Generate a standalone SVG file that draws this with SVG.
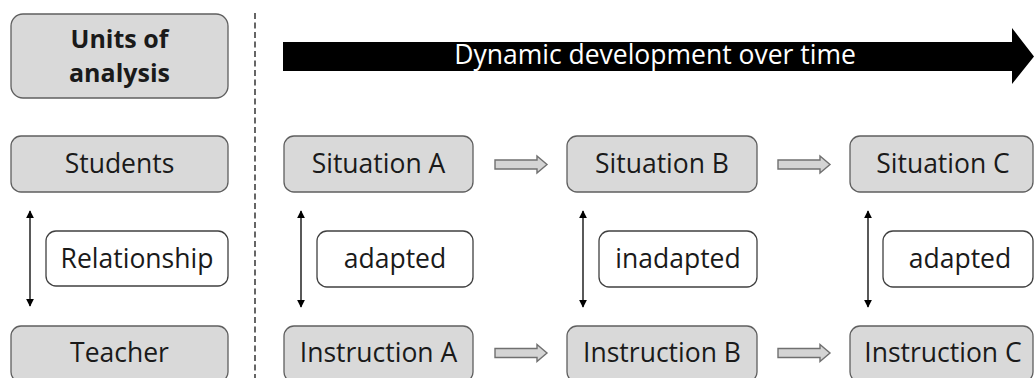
<svg xmlns="http://www.w3.org/2000/svg" width="1034" height="378" viewBox="0 0 1034 378">
<style>
.g{fill:#d9d9d9;stroke:#5f5f5f;stroke-width:1.3}
.w{fill:#ffffff;stroke:#404040;stroke-width:1.3}
.t{font-family:"Open Sans","Liberation Sans",sans-serif;font-size:26.5px;fill:#1a1a1a;text-anchor:middle}
.b{font-weight:bold;font-size:25px}
.dbl{stroke:#000;stroke-width:1.3;fill:none;marker-start:url(#ah);marker-end:url(#ah)}
.blk{fill:#d4d4d4;stroke:#707070;stroke-width:1.4}
</style>
<defs>
<marker id="ah" viewBox="0 0 10 10" refX="9" refY="5" markerWidth="8" markerHeight="8" markerUnits="userSpaceOnUse" orient="auto-start-reverse">
<path d="M0,0 L10,5 L0,10 z" fill="#000"/>
</marker>
<path id="barrow" d="M0,-4.5 L42,-4.5 L42,-8.5 L52,0 L42,8.5 L42,4.5 L0,4.5 z"/>
</defs>
<rect width="1034" height="378" fill="#fff"/>
<line x1="255" y1="13" x2="255" y2="378" stroke="#000" stroke-width="1.2" stroke-dasharray="6,3.5"/>
<g id="timeline">
<polygon points="283,42 1012,42 1012,28 1034,56.5 1012,84 1012,71 283,71" fill="#000"/>
<text class="t" x="655" y="64" style="fill:#fff">Dynamic development over time</text>
</g>
<g id="units">
<rect class="g" x="11" y="14" width="217" height="84" rx="12"/>
<text class="t b" x="119.5" y="48">Units of</text>
<text class="t b" x="119.5" y="82">analysis</text>
</g>
<g id="students"><rect class="g" x="11" y="136" width="217" height="56" rx="10"/><text class="t" x="119.5" y="173">Students</text></g>
<g id="relationship"><rect class="w" x="46" y="231" width="182" height="55" rx="10"/><text class="t" x="137" y="268">Relationship</text></g>
<g id="teacher"><rect class="g" x="11" y="326" width="217" height="56" rx="10"/><text class="t" x="119.5" y="362">Teacher</text></g>
<g id="situationA"><rect class="g" x="284" y="136" width="189" height="56" rx="10"/><text class="t" x="378.5" y="173">Situation A</text></g>
<g id="adaptedA"><rect class="w" x="317" y="231" width="156" height="56" rx="10"/><text class="t" x="395" y="268">adapted</text></g>
<g id="instructionA"><rect class="g" x="284" y="326" width="189" height="56" rx="10"/><text class="t" x="378.5" y="362">Instruction A</text></g>
<g id="situationB"><rect class="g" x="567" y="136" width="190" height="56" rx="10"/><text class="t" x="662" y="173">Situation B</text></g>
<g id="inadaptedB"><rect class="w" x="599" y="231" width="158" height="56" rx="10"/><text class="t" x="678" y="268">inadapted</text></g>
<g id="instructionB"><rect class="g" x="567" y="326" width="190" height="56" rx="10"/><text class="t" x="662" y="362">Instruction B</text></g>
<g id="situationC"><rect class="g" x="850" y="136" width="183" height="56" rx="10"/><text class="t" x="943" y="173">Situation C</text></g>
<g id="adaptedC"><rect class="w" x="883" y="231" width="150" height="56" rx="10"/><text class="t" x="960" y="268">adapted</text></g>
<g id="instructionC"><rect class="g" x="850" y="326" width="183" height="56" rx="10"/><text class="t" x="943" y="362">Instruction C</text></g>
<g id="connectors">
<line class="dbl" x1="30" y1="211" x2="30" y2="306"/>
<line class="dbl" x1="301" y1="211" x2="301" y2="307"/>
<line class="dbl" x1="583" y1="211" x2="583" y2="307"/>
<line class="dbl" x1="868" y1="211" x2="868" y2="307"/>
<use href="#barrow" class="blk" x="495" y="164.5"/>
<use href="#barrow" class="blk" x="778" y="164.5"/>
<use href="#barrow" class="blk" x="495" y="353"/>
<use href="#barrow" class="blk" x="778" y="353"/>
</g>
</svg>
